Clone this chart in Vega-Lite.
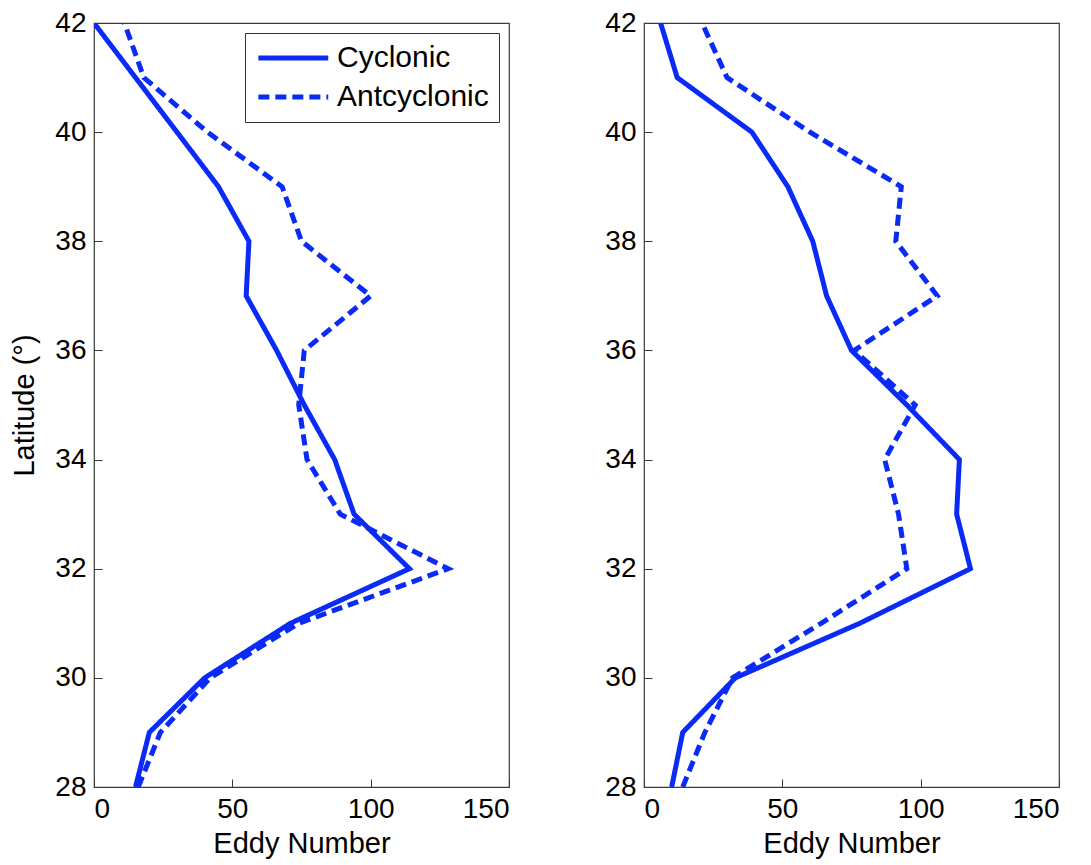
{
  "$schema": "https://vega.github.io/schema/vega-lite/v6.json",
  "background": "white",
  "padding": {"left": 10, "top": 8, "right": 0, "bottom": 0},
  "spacing": 135,
  "bounds": "flush",
  "config": {
    "view": {"stroke": "#3a3a3a", "strokeWidth": 1.2},
    "font": "Liberation Sans",
    "axis": {
      "grid": false,
      "domain": false,
      "tickSize": -8,
      "tickColor": "#3a3a3a",
      "tickWidth": 1,
      "labelFont": "Liberation Sans",
      "labelFontSize": 28,
      "labelColor": "black",
      "labelPadding": 16,
      "titleFont": "Liberation Sans",
      "titleFontSize": 29,
      "titleFontWeight": "normal",
      "titleColor": "black"
    },
    "legend": {
      "labelFont": "Liberation Sans",
      "labelFontSize": 30,
      "labelColor": "black"
    }
  },
  "resolve": {"legend": {"strokeDash": "independent"}},
  "datasets": {
    "left": [
      {"type": "Cyclonic", "lat": 42, "n": 0},
      {"type": "Cyclonic", "lat": 41, "n": 15},
      {"type": "Cyclonic", "lat": 40, "n": 30},
      {"type": "Cyclonic", "lat": 39, "n": 45},
      {"type": "Cyclonic", "lat": 38, "n": 56},
      {"type": "Cyclonic", "lat": 37, "n": 55},
      {"type": "Cyclonic", "lat": 36, "n": 66},
      {"type": "Cyclonic", "lat": 35, "n": 76},
      {"type": "Cyclonic", "lat": 34, "n": 87},
      {"type": "Cyclonic", "lat": 33, "n": 94},
      {"type": "Cyclonic", "lat": 32, "n": 114},
      {"type": "Cyclonic", "lat": 31, "n": 71},
      {"type": "Cyclonic", "lat": 30, "n": 40},
      {"type": "Cyclonic", "lat": 29, "n": 20},
      {"type": "Cyclonic", "lat": 28, "n": 15},
      {"type": "Antcyclonic", "lat": 42, "n": 11},
      {"type": "Antcyclonic", "lat": 41, "n": 18},
      {"type": "Antcyclonic", "lat": 40, "n": 41},
      {"type": "Antcyclonic", "lat": 39, "n": 68},
      {"type": "Antcyclonic", "lat": 38, "n": 75},
      {"type": "Antcyclonic", "lat": 37, "n": 100},
      {"type": "Antcyclonic", "lat": 36, "n": 76},
      {"type": "Antcyclonic", "lat": 35, "n": 74},
      {"type": "Antcyclonic", "lat": 34, "n": 77},
      {"type": "Antcyclonic", "lat": 33, "n": 89},
      {"type": "Antcyclonic", "lat": 32, "n": 128},
      {"type": "Antcyclonic", "lat": 31, "n": 74},
      {"type": "Antcyclonic", "lat": 30, "n": 42},
      {"type": "Antcyclonic", "lat": 29, "n": 24},
      {"type": "Antcyclonic", "lat": 28, "n": 16}
    ],
    "right": [
      {"type": "Cyclonic", "lat": 42, "n": 6},
      {"type": "Cyclonic", "lat": 41, "n": 12},
      {"type": "Cyclonic", "lat": 40, "n": 39},
      {"type": "Cyclonic", "lat": 39, "n": 52},
      {"type": "Cyclonic", "lat": 38, "n": 61},
      {"type": "Cyclonic", "lat": 37, "n": 66},
      {"type": "Cyclonic", "lat": 36, "n": 75},
      {"type": "Cyclonic", "lat": 35, "n": 95},
      {"type": "Cyclonic", "lat": 34, "n": 114},
      {"type": "Cyclonic", "lat": 33, "n": 113},
      {"type": "Cyclonic", "lat": 32, "n": 118},
      {"type": "Cyclonic", "lat": 31, "n": 78},
      {"type": "Cyclonic", "lat": 30, "n": 33},
      {"type": "Cyclonic", "lat": 29, "n": 14},
      {"type": "Cyclonic", "lat": 28, "n": 10},
      {"type": "Antcyclonic", "lat": 42, "n": 21},
      {"type": "Antcyclonic", "lat": 41, "n": 30},
      {"type": "Antcyclonic", "lat": 40, "n": 60},
      {"type": "Antcyclonic", "lat": 39, "n": 93},
      {"type": "Antcyclonic", "lat": 38, "n": 91},
      {"type": "Antcyclonic", "lat": 37, "n": 106},
      {"type": "Antcyclonic", "lat": 36, "n": 76},
      {"type": "Antcyclonic", "lat": 35, "n": 98},
      {"type": "Antcyclonic", "lat": 34, "n": 87},
      {"type": "Antcyclonic", "lat": 33, "n": 92},
      {"type": "Antcyclonic", "lat": 32, "n": 95},
      {"type": "Antcyclonic", "lat": 31, "n": 64},
      {"type": "Antcyclonic", "lat": 30, "n": 32},
      {"type": "Antcyclonic", "lat": 29, "n": 22},
      {"type": "Antcyclonic", "lat": 28, "n": 14}
    ]
  },
  "hconcat": [
    {
      "width": 415,
      "height": 764,
      "data": {"name": "left"},
      "mark": {"type": "line", "strokeWidth": 5, "color": "#0a2af5", "clip": true},
      "encoding": {
        "x": {"field": "n", "type": "quantitative", "scale": {"domain": [0, 150]},
              "axis": {"values": [0, 50, 100, 150], "title": "Eddy Number", "titlePadding": 6}},
        "y": {"field": "lat", "type": "quantitative", "scale": {"domain": [28, 42]},
              "axis": {"values": [28, 30, 32, 34, 36, 38, 40, 42], "title": "Latitude (°)", "titlePadding": 15}},
        "strokeDash": {"field": "type", "type": "nominal",
                       "scale": {"domain": ["Cyclonic", "Antcyclonic"], "range": [[1, 0], [11, 6]]},
                       "legend": {"title": null, "orient": "top-right", "offset": 10,
                                  "strokeColor": "#333333", "fillColor": "white", "padding": 10,
                                  "symbolType": "M-1,0H5", "symbolSize": 543, "symbolStrokeWidth": 5,
                                  "symbolStrokeColor": "#0a2af5", "symbolFillColor": "transparent",
                                  "rowPadding": 9, "labelOffset": 52}},
        "order": {"field": "lat", "type": "quantitative"}
      }
    },
    {
      "width": 415,
      "height": 764,
      "data": {"name": "right"},
      "mark": {"type": "line", "strokeWidth": 5, "color": "#0a2af5", "clip": true},
      "encoding": {
        "x": {"field": "n", "type": "quantitative", "scale": {"domain": [0, 150]},
              "axis": {"values": [0, 50, 100, 150], "title": "Eddy Number", "titlePadding": 6}},
        "y": {"field": "lat", "type": "quantitative", "scale": {"domain": [28, 42]},
              "axis": {"values": [28, 30, 32, 34, 36, 38, 40, 42], "title": null}},
        "strokeDash": {"field": "type", "type": "nominal",
                       "scale": {"domain": ["Cyclonic", "Antcyclonic"], "range": [[1, 0], [11, 6]]},
                       "legend": null},
        "order": {"field": "lat", "type": "quantitative"}
      }
    }
  ]
}
